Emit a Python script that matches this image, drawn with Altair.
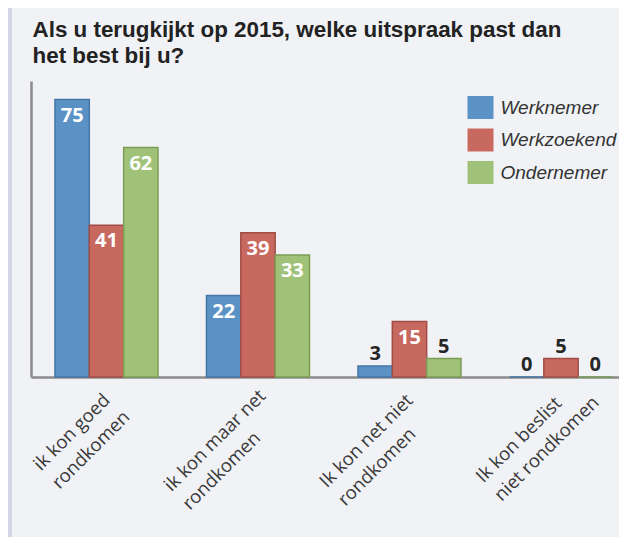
import altair as alt
import pandas as pd

categories = ["ik kon goed rondkomen", "ik kon maar net rondkomen",
              "Ik kon net niet rondkomen", "Ik kon beslist niet rondkomen"]
label_line1 = ["ik kon goed", "ik kon maar net", "Ik kon net niet", "Ik kon beslist"]
label_line2 = ["rondkomen", "rondkomen", "rondkomen", "niet rondkomen"]
series = ["Werknemer", "Werkzoekend", "Ondernemer"]
werknemer = [75, 22, 3, 0]
werkzoekend = [41, 39, 15, 5]
ondernemer = [62, 33, 5, 0]
fill_colors = ["#5b92c6", "#c8695f", "#9fc278"]
stroke_colors = ["#4676a8", "#a24c46", "#7c9c56"]
title_lines = ["Als u terugkijkt op 2015, welke uitspraak past dan", "het best bij u?"]

rows = []
for s, vals in zip(series, [werknemer, werkzoekend, ondernemer]):
    for c, v in zip(categories, vals):
        rows.append({"categorie": c, "groep": s, "waarde": v})
df = pd.DataFrame(rows)
lab = pd.DataFrame({"categorie": categories, "l1": label_line1, "l2": label_line2})
tit = pd.DataFrame({"r1": [title_lines[0]], "r2": [title_lines[1]]})

W, H = 588, 296
AXC = "#8b8b8b"
LFS = 18.5

x_enc = alt.X("categorie:N", sort=categories,
              scale=alt.Scale(paddingInner=0.32, paddingOuter=0.1005, align=0.787),
              axis=alt.Axis(title=None, labels=False, ticks=False, domainColor=AXC, domainWidth=2.5))
y_enc = alt.Y("waarde:Q", scale=alt.Scale(domain=[0, 80], nice=False),
              axis=alt.Axis(title=None, labels=False, ticks=False, grid=False,
                            domainColor=AXC, domainWidth=2.5))
xo = alt.XOffset("groep:N", sort=series, scale=alt.Scale(paddingInner=0, paddingOuter=0))

base = alt.Chart(df)

bars = base.mark_bar(strokeWidth=1.5).encode(
    x=x_enc, y=y_enc, xOffset=xo,
    fill=alt.Fill("groep:N", sort=series,
                  scale=alt.Scale(domain=series, range=fill_colors),
                  legend=alt.Legend(title=None, orient="none", legendX=438, legendY=15,
                                    symbolType="M-1.13,-1H1.13V1H-1.13Z", symbolSize=529,
                                    symbolStrokeWidth=0, symbolOpacity=1,
                                    labelFont="Liberation Sans", labelFontSize=19,
                                    labelFontStyle="italic", labelColor="#333333",
                                    labelOffset=8.5, rowPadding=9.5, padding=0, labelLimit=300)),
    stroke=alt.Stroke("groep:N", sort=series,
                      scale=alt.Scale(domain=series, range=stroke_colors), legend=None),
)

inside = base.transform_filter("datum.waarde >= 10").mark_text(
    font="Open Sans", fontSize=20, fontWeight="bold", color="white",
    baseline="alphabetic", dy=22
).encode(x=x_enc, y=y_enc, xOffset=xo, text="waarde:Q")

outside = base.transform_filter("datum.waarde < 10").mark_text(
    font="Open Sans", fontSize=20, fontWeight="bold", color="#262626",
    baseline="alphabetic", dy=-6
).encode(x=x_enc, y=y_enc, xOffset=xo, text="waarde:Q")

xlabels = alt.Chart(lab).transform_calculate(
    txt="[datum.l1, datum.l2]",
    nar="length(datum.l1) - length(replace(datum.l1, /[iIlj ]/g, ''))",
    med="length(datum.l1) - length(replace(datum.l1, /[tr]/g, ''))",
    dxv=f"15.6 - {LFS} * (0.575 * length(datum.l1) - 0.3 * datum.nar - 0.2 * datum.med)",
).mark_text(
    font="Open Sans", fontSize=LFS, color="#3a3a3a", angle=315, align="left",
    baseline="alphabetic", lineHeight=26, dx=alt.expr("datum.dxv"), dy=-7.8
).encode(x=x_enc, y=alt.value(H + 40), text="txt:N")

title = alt.Chart(tit).transform_calculate(txt="[datum.r1, datum.r2]").mark_text(
    font="Liberation Sans", fontSize=22.4, fontWeight="bold", color="#222222",
    align="left", baseline="alphabetic", lineHeight=26.6
).encode(x=alt.value(1.5), y=alt.value(-44.5), text="txt:N")

strip = alt.Chart(tit).mark_rule(color="#d3d5e4", strokeWidth=4).encode(
    x=alt.value(-21), y=alt.value(-75), y2=alt.value(H + 170))

chart = alt.layer(strip, title, bars, inside, outside, xlabels).properties(
    width=W, height=H,
    autosize=alt.AutoSizeParams(type="none"),
    padding={"left": 23, "top": 73, "right": 0, "bottom": 160},
    background="#f1f2f6",
).configure_view(stroke=None)

chart.save("out.html", embed_options={"renderer": "svg", "actions": False})
